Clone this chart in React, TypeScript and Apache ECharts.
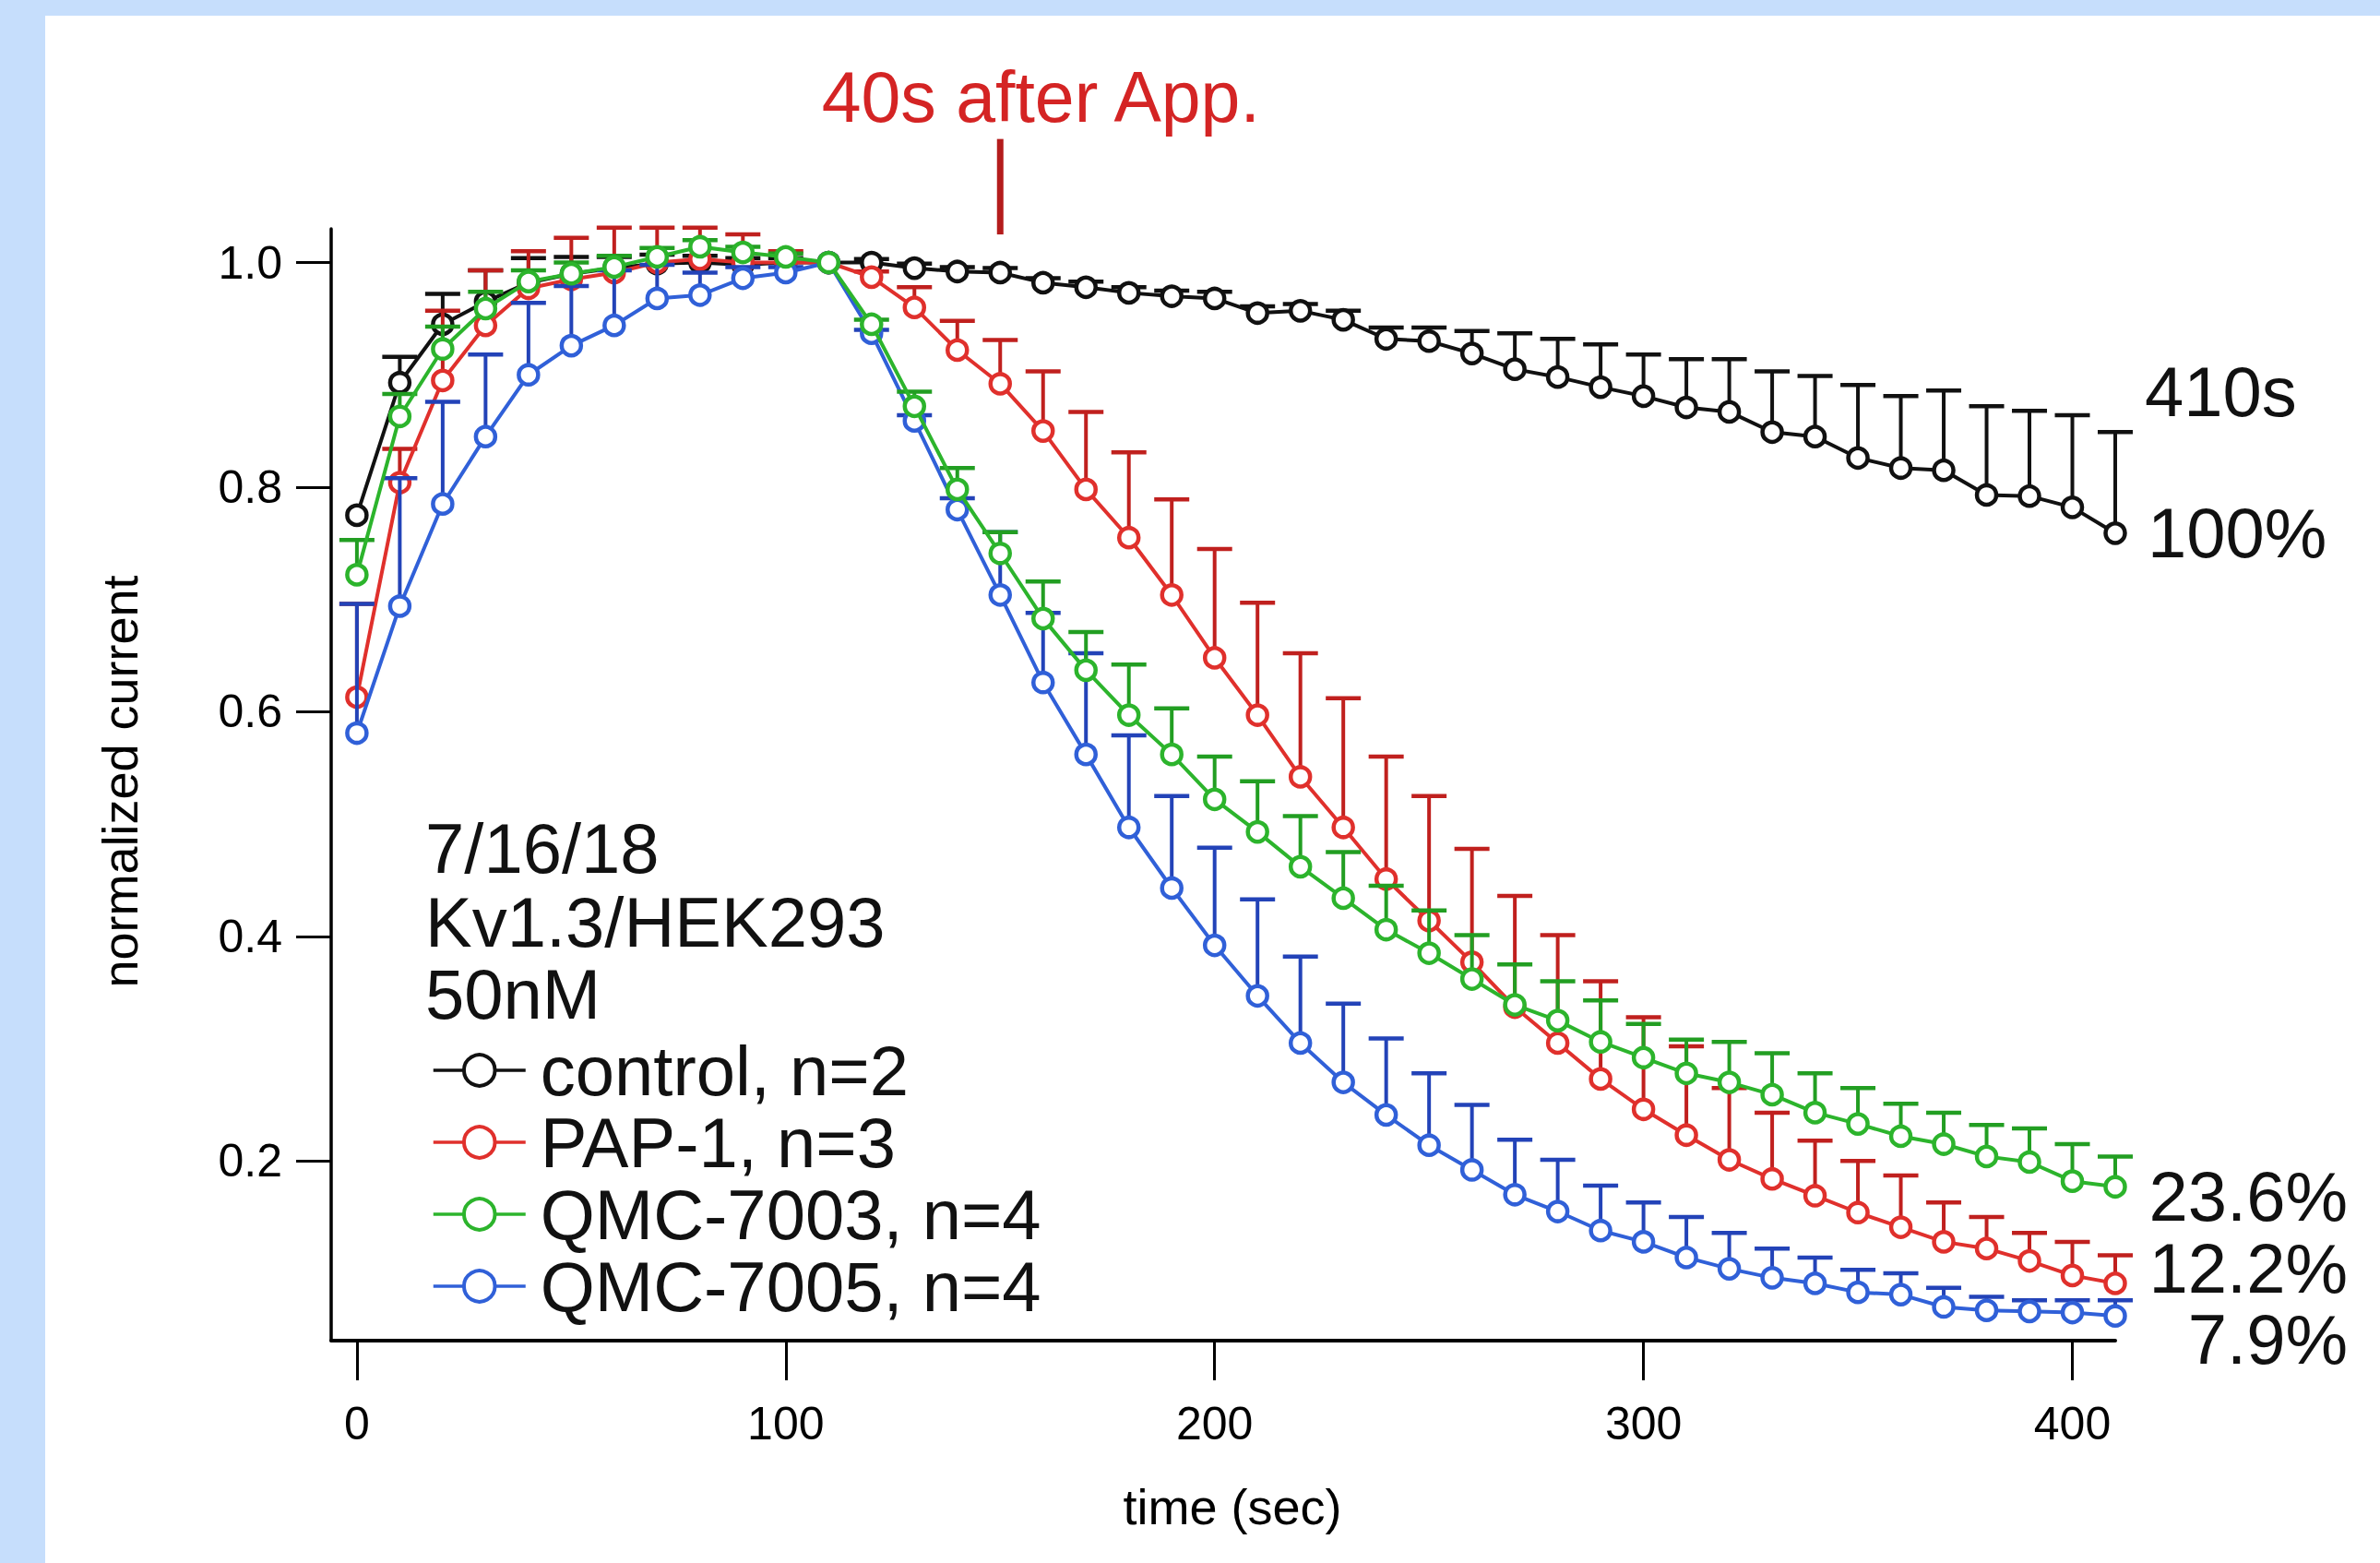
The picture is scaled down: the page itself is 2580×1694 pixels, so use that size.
import React, { useEffect, useRef } from "react";
import * as echarts from "echarts";

// time points (s)
const times = [
  0, 10, 20, 30, 40, 50, 60, 70, 80, 90, 100, 110, 120, 130, 140, 150, 160, 170, 180, 190, 200,
  210, 220, 230, 240, 250, 260, 270, 280, 290, 300, 310, 320, 330, 340, 350, 360, 370, 380, 390, 400, 410,
];

// control, n=2
const controlMean = [
  0.775, 0.893, 0.945, 0.965, 0.982, 0.99, 0.995, 0.999, 1.0, 0.998, 1.0, 1.0,
  1.0, 0.995, 0.992, 0.991, 0.982, 0.978, 0.973, 0.97, 0.968,
  0.955, 0.957, 0.949, 0.932, 0.93, 0.919, 0.905, 0.898, 0.889,
  0.881, 0.871, 0.867, 0.849, 0.845, 0.826, 0.817, 0.815, 0.793, 0.792, 0.782, 0.759,
];
const controlErr = [
  0, 0.023, 0.027, 0.028, 0.022, 0.015, 0.01, 0.008, 0.006, 0.006, 0.004, 0,
  0.003, 0.004, 0.004, 0.004, 0.004, 0.005, 0.005, 0.005, 0.006,
  0.006, 0.006, 0.008, 0.01, 0.012, 0.02, 0.032, 0.034, 0.038,
  0.037, 0.043, 0.047, 0.054, 0.054, 0.065, 0.064, 0.071, 0.079, 0.076, 0.082, 0.09,
];

// PAP-1, n=3
const pap1Mean = [
  0.613, 0.804, 0.895, 0.944, 0.977, 0.985, 0.991, 1.0, 1.003, 1.0, 1.0, 1.0,
  0.987, 0.96, 0.922, 0.892, 0.85, 0.798, 0.755, 0.704, 0.648,
  0.597, 0.542, 0.497, 0.451, 0.414, 0.377, 0.337, 0.305, 0.273,
  0.246, 0.223, 0.201, 0.184, 0.169, 0.154, 0.141, 0.128, 0.122, 0.111, 0.098, 0.091,
];
const pap1Err = [
  0.083, 0.03, 0.062, 0.049, 0.033, 0.037, 0.04, 0.031, 0.028, 0.025, 0.01, 0,
  0.005, 0.018, 0.026, 0.039, 0.053, 0.069, 0.076, 0.085, 0.097,
  0.1, 0.11, 0.115, 0.109, 0.111, 0.101, 0.099, 0.096, 0.087,
  0.082, 0.079, 0.064, 0.059, 0.049, 0.046, 0.046, 0.035, 0.028, 0.025, 0.03, 0.025,
];

// QMC-7003, n=4
const qmc7003Mean = [
  0.722, 0.863, 0.923, 0.959, 0.983, 0.99, 0.996, 1.005, 1.014, 1.009, 1.005, 1.0,
  0.945, 0.872, 0.798, 0.741, 0.683, 0.637, 0.597, 0.562, 0.522,
  0.493, 0.462, 0.434, 0.406, 0.385, 0.362, 0.339, 0.325, 0.306,
  0.292, 0.278, 0.27, 0.259, 0.243, 0.233, 0.222, 0.215, 0.204, 0.199, 0.182, 0.177,
];
const qmc7003Err = [
  0.031, 0.02, 0.02, 0.015, 0.01, 0.01, 0.01, 0.008, 0.006, 0.005, 0.003, 0,
  0.004, 0.013, 0.019, 0.019, 0.033, 0.034, 0.045, 0.041, 0.038,
  0.045, 0.045, 0.041, 0.039, 0.038, 0.039, 0.036, 0.035, 0.037,
  0.03, 0.03, 0.036, 0.037, 0.035, 0.032, 0.029, 0.028, 0.028, 0.03, 0.033, 0.027,
];

// QMC-7005, n=4
const qmc7005Mean = [
  0.581, 0.694, 0.785, 0.845, 0.9, 0.926, 0.944, 0.968, 0.971, 0.986, 0.991, 1.0,
  0.937, 0.859, 0.78, 0.704, 0.626, 0.562, 0.497, 0.443, 0.392,
  0.347, 0.305, 0.27, 0.241, 0.214, 0.192, 0.17, 0.155, 0.138,
  0.128, 0.114, 0.104, 0.096, 0.091, 0.083, 0.081, 0.07, 0.067, 0.066, 0.065, 0.062,
];
const qmc7005Err = [
  0.115, 0.114, 0.091, 0.073, 0.064, 0.053, 0.049, 0.03, 0.02, 0.01, 0.005, 0,
  0.003, 0.005, 0.01, 0.056, 0.062, 0.09, 0.082, 0.082, 0.087,
  0.086, 0.077, 0.07, 0.068, 0.064, 0.058, 0.049, 0.046, 0.04,
  0.035, 0.036, 0.032, 0.026, 0.023, 0.02, 0.019, 0.017, 0.012, 0.01, 0.011, 0.014,
];

const xTicks = [0, 100, 200, 300, 400];
const yTicks = [0.2, 0.4, 0.6, 0.8, 1.0];

const headerLines = ["7/16/18", "Kv1.3/HEK293", "50nM"];
const endLabels = ["410s", "100%", "23.6%", "12.2%", "7.9%"];
const appTime = 150;
const appLabel = "40s after App.";

const FONT = "Liberation Sans, Arial, Helvetica, sans-serif";

type Group = { name: string; mean: number[]; err: number[]; color: string; errColor: string };

const groups: Group[] = [
  { name: "control, n=2", mean: controlMean, err: controlErr, color: "#111111", errColor: "#111111" },
  { name: "PAP-1, n=3", mean: pap1Mean, err: pap1Err, color: "#e0302c", errColor: "#c0201e" },
  { name: "QMC-7005, n=4", mean: qmc7005Mean, err: qmc7005Err, color: "#3060d8", errColor: "#2343b8" },
  { name: "QMC-7003, n=4", mean: qmc7003Mean, err: qmc7003Err, color: "#2cb42c", errColor: "#229e22" },
];

export default function App() {
  const ref = useRef<HTMLDivElement>(null);

  useEffect(() => {
    document.body.style.margin = "0";
    document.body.style.overflow = "hidden";
    if (!ref.current) return;
    const chart = echarts.init(ref.current, undefined, { renderer: "svg" });

    const series: any[] = [];
    groups.forEach((g, gi) => {
      const errColor = g.errColor;
      series.push({
        type: "custom",
        name: g.name + " error",
        z: 2 + gi * 2,
        silent: true,
        clip: false,
        renderItem: (params: any, api: any) => {
          const x = api.value(0);
          const y = api.value(1);
          const e = api.value(2);
          if (!(e > 0.0015)) return { type: "group", children: [] };
          const p0 = api.coord([x, y]);
          const p1 = api.coord([x, y + e]);
          const hw = 19;
          return {
            type: "group",
            children: [
              {
                type: "line",
                shape: { x1: p0[0], y1: p0[1], x2: p1[0], y2: p1[1] },
                style: { stroke: errColor, lineWidth: 4 },
              },
              {
                type: "line",
                shape: { x1: p1[0] - hw, y1: p1[1], x2: p1[0] + hw, y2: p1[1] },
                style: { stroke: errColor, lineWidth: 4.5 },
              },
            ],
          };
        },
        encode: { x: 0, y: 1 },
        data: times.map((t, i) => [t, g.mean[i], g.err[i]]),
      });
      series.push({
        type: "line",
        name: g.name,
        z: 3 + gi * 2,
        color: g.color,
        data: times.map((t, i) => [t, g.mean[i]]),
        symbol: "circle",
        symbolSize: 21,
        showSymbol: true,
        showAllSymbol: true,
        clip: false,
        lineStyle: { color: g.color, width: 4 },
        itemStyle: { color: "#ffffff", borderColor: g.color, borderWidth: 4.5 },
        emphasis: { disabled: true },
      });
    });

    const txt = (id: string, text: string, x: number, y: number, size: number, align: string, fill = "#111", rotation = 0) => ({
      type: "text",
      id,
      x,
      y,
      rotation,
      silent: true,
      style: { text, fontSize: size, fontFamily: FONT, fill, align, verticalAlign: "middle" },
    });

    const graphic: any[] = [
      { type: "rect", id: "bgTop", silent: true, shape: { x: 0, y: 0, width: 2580, height: 17 }, style: { fill: "#c6defc" } },
      { type: "rect", id: "bgLeft", silent: true, shape: { x: 0, y: 0, width: 49, height: 1694 }, style: { fill: "#c6defc" } },
      txt("h0", headerLines[0], 461, 919, 76, "left"),
      txt("h1", headerLines[1], 461, 999, 76, "left"),
      txt("h2", headerLines[2], 461, 1077, 76, "left"),
      txt("e0", endLabels[0], 2325, 424, 76, "left"),
      txt("e1", endLabels[1], 2328, 577, 76, "left"),
      txt("e2", endLabels[2], 2545, 1296, 76, "right"),
      txt("e3", endLabels[3], 2545, 1374, 76, "right"),
      txt("e4", endLabels[4], 2545, 1451, 76, "right"),
      txt("xt", "time (sec)", 1336, 1633, 54, "center", "#000"),
      txt("yt", "normalized current", 130, 847, 54, "center", "#000", Math.PI / 2),
    ];

    const option: any = {
      animation: false,
      backgroundColor: "#ffffff",
      textStyle: { fontFamily: FONT },
      grid: { left: 359, top: 248, width: 1934, height: 1205, containLabel: false },
      xAxis: {
        type: "value",
        min: -6,
        max: 410,
        axisLine: { show: true, onZero: false, lineStyle: { color: "#000", width: 4 } },
        axisTick: { show: true, customValues: xTicks, length: 43, lineStyle: { color: "#000", width: 3 } },
        axisLabel: { customValues: xTicks, margin: 90, verticalAlign: "middle", fontSize: 50, color: "#000" },
        splitLine: { show: false },
      },
      yAxis: {
        type: "value",
        min: 0.04,
        max: 1.03,
        axisLine: { show: true, onZero: false, lineStyle: { color: "#000", width: 3.5 } },
        axisTick: { show: true, customValues: yTicks, length: 38, lineStyle: { color: "#000", width: 3 } },
        axisLabel: {
          customValues: yTicks,
          margin: 53,
          fontSize: 50,
          color: "#000",
          formatter: (v: number) => v.toFixed(1),
        },
        splitLine: { show: false },
      },
      legend: {
        data: ["control, n=2", "PAP-1, n=3", "QMC-7003, n=4", "QMC-7005, n=4"],
        orient: "vertical",
        left: 468,
        top: 1121,
        padding: 0,
        itemGap: 0,
        itemWidth: 100,
        itemHeight: 42,
        selectedMode: false,
        textStyle: { fontSize: 76, color: "#111", lineHeight: 78, fontFamily: FONT, padding: [0, 0, 0, 11] },
        itemStyle: { borderWidth: 4 },
        lineStyle: { width: 3.5 },
      },
      graphic,
      series,
    };

    chart.setOption(option);

    const pA = chart.convertToPixel({ gridIndex: 0 }, [appTime, 1.025]) as number[];
    const pB = chart.convertToPixel({ gridIndex: 0 }, [appTime, 1.11]) as number[];
    chart.setOption({
      graphic: [
        {
          type: "line",
          id: "appLine",
          silent: true,
          shape: { x1: pA[0], y1: pA[1], x2: pB[0], y2: pB[1] },
          style: { stroke: "#b41c1c", lineWidth: 7 },
        },
        txt("appText", appLabel, pA[0] + 44, 105, 77, "center", "#d42424"),
      ],
    });

    return () => chart.dispose();
  }, []);

  return <div ref={ref} style={{ width: 2580, height: 1694 }} />;
}
